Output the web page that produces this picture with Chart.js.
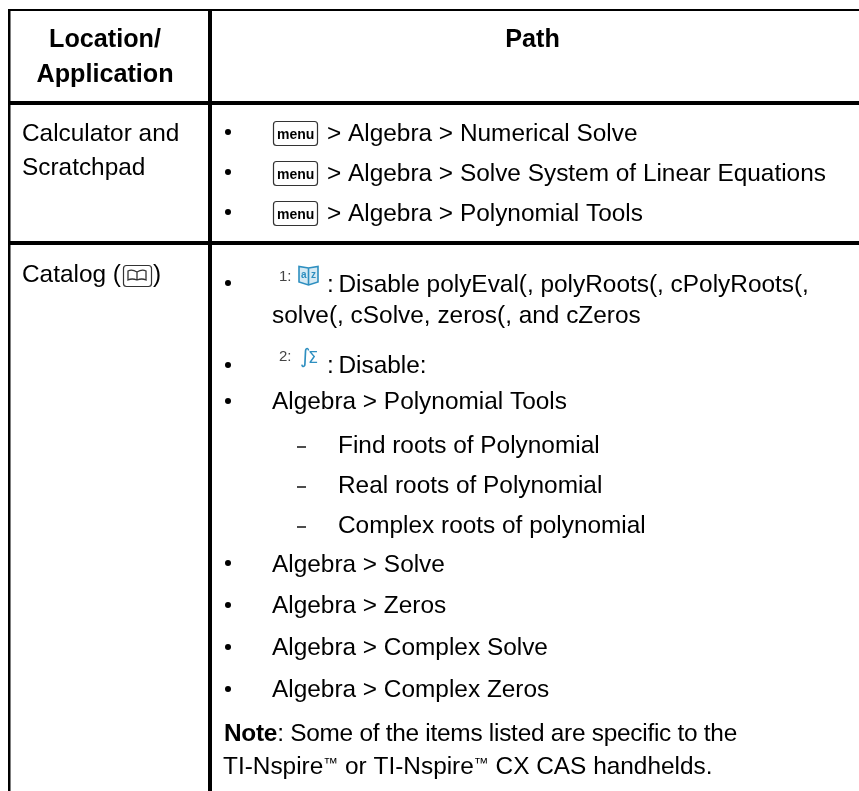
<!DOCTYPE html>
<html>
<head>
<meta charset="utf-8">
<title>Location / Path</title>
<script src="https://cdn.jsdelivr.net/npm/chart.js@4/dist/chart.umd.min.js"></script>
<style>
  html, body { margin: 0; padding: 0; background: #fff; }
  canvas { display: block; }
</style>
</head>
<body>
<canvas id="pathTable" width="859" height="791"></canvas>
<script>
// table rules
const columnEdges = [9.5, 210];
const columnWeights = [2.5, 4];
const rowEdges = [10, 103, 243];
const rowWeights = [2, 4, 4];

// header and first column
const headerLabels = ["Location/", "Application", "Path"];
const headerX = [105, 105, 532.5];
const headerY = [47, 82, 47];
const locationLabels = ["Calculator and", "Scratchpad", "Catalog ("];
const locationY = [141, 175, 282];

// second column, one entry per printed line
const pathLabels = [
  "> Algebra > Numerical Solve",
  "> Algebra > Solve System of Linear Equations",
  "> Algebra > Polynomial Tools",
  ":",
  "Disable polyEval(, polyRoots(, cPolyRoots(,",
  "solve(, cSolve, zeros(, and cZeros",
  ":",
  "Disable:",
  "Algebra > Polynomial Tools",
  "Find roots of Polynomial",
  "Real roots of Polynomial",
  "Complex roots of polynomial",
  "Algebra > Solve",
  "Algebra > Zeros",
  "Algebra > Complex Solve",
  "Algebra > Complex Zeros"
];
const pathX = [327, 327, 327, 327, 338.5, 272, 327, 338.5, 272, 338, 338, 338, 272, 272, 272, 272];
const pathY = [141, 181, 221, 292, 292, 323, 373, 373, 409, 453, 493, 533, 572, 613, 655, 697];
const noteLabels = ["Note", ": Some of the items listed are specific to the"];
const handheldLabels = ["TI-Nspire", "™", " or TI-Nspire", "™", " CX CAS handhelds."];

// marks in the second column
const bulletRows = [132, 172, 212, 283, 365, 401, 563, 605, 647, 689];
const dashRows = [447, 487, 527];
const menuRows = [141, 181, 221];

const tableText = {
  id: "tableText",
  afterDatasetsDraw(chart) {
    const { ctx, scales: { x, y } } = chart;
    const bodyFont = "24.4px 'Liberation Sans'";
    const boldFont = "bold 24.4px 'Liberation Sans'";
    ctx.save();
    ctx.fillStyle = "#000";
    ctx.textBaseline = "alphabetic";

    ctx.textAlign = "center";
    ctx.font = "bold 25.2px 'Liberation Sans'";
    headerLabels.forEach((t, i) => ctx.fillText(t, x.getPixelForValue(headerX[i]), y.getPixelForValue(headerY[i])));

    ctx.textAlign = "left";
    ctx.font = bodyFont;
    locationLabels.forEach((t, i) => ctx.fillText(t, x.getPixelForValue(22), y.getPixelForValue(locationY[i])));
    ctx.fillText(")", x.getPixelForValue(153), y.getPixelForValue(282));
    pathLabels.forEach((t, i) => ctx.fillText(t, x.getPixelForValue(pathX[i]), y.getPixelForValue(pathY[i])));

    // bold lead-in of the note, this line is set a little tighter
    const noteX = x.getPixelForValue(224), noteY = y.getPixelForValue(741);
    ctx.letterSpacing = "-0.26px";
    ctx.font = boldFont;
    ctx.fillText(noteLabels[0], noteX, noteY);
    const leadWidth = ctx.measureText(noteLabels[0]).width;
    ctx.font = bodyFont;
    ctx.fillText(noteLabels[1], noteX + leadWidth, noteY);
    ctx.letterSpacing = "0px";

    // trademark signs are small and raised
    let handX = x.getPixelForValue(223);
    const handY = y.getPixelForValue(774);
    handheldLabels.forEach(t => {
      const mark = t === "™";
      ctx.font = mark ? "15px 'Liberation Sans'" : bodyFont;
      ctx.fillText(t, handX, mark ? handY - 6.5 : handY);
      handX += ctx.measureText(t).width;
    });

    // menu key caps
    menuRows.forEach(row => {
      const px = x.getPixelForValue(273), py = y.getPixelForValue(row - 20);
      ctx.strokeStyle = "#333";
      ctx.lineWidth = 1.2;
      ctx.beginPath();
      ctx.roundRect(px + 0.5, py + 0.5, 44, 24, 3);
      ctx.stroke();
      ctx.font = "bold 14px 'Liberation Sans'";
      ctx.fillText("menu", px + 4, py + 18);
    });

    // catalog key in the first column
    const kx = x.getPixelForValue(123), ky = y.getPixelForValue(265);
    ctx.strokeStyle = "#333";
    ctx.lineWidth = 1.2;
    ctx.beginPath();
    ctx.roundRect(kx + 0.5, ky + 0.5, 28, 21, 3);
    ctx.stroke();
    ctx.lineWidth = 1.3;
    ctx.beginPath();
    ctx.moveTo(kx + 14, ky + 7);
    ctx.quadraticCurveTo(kx + 9, ky + 4, kx + 5, ky + 6);
    ctx.lineTo(kx + 5, ky + 15);
    ctx.quadraticCurveTo(kx + 9, ky + 13, kx + 14, ky + 15);
    ctx.quadraticCurveTo(kx + 19, ky + 13, kx + 23, ky + 15);
    ctx.lineTo(kx + 23, ky + 6);
    ctx.quadraticCurveTo(kx + 19, ky + 4, kx + 14, ky + 7);
    ctx.lineTo(kx + 14, ky + 15);
    ctx.stroke();

    // catalog tab icons
    ctx.fillStyle = "#444";
    ctx.font = "15px 'Liberation Sans'";
    ctx.fillText("1:", x.getPixelForValue(279), y.getPixelForValue(281));
    ctx.fillText("2:", x.getPixelForValue(279), y.getPixelForValue(361));

    ctx.fillStyle = "#2e8fc0";
    ctx.font = "20px 'DejaVu Sans'";
    ctx.fillText("∫", x.getPixelForValue(300), y.getPixelForValue(363));
    ctx.font = "16px 'DejaVu Sans'";
    ctx.fillText("Σ", x.getPixelForValue(308), y.getPixelForValue(363));

    const bx = x.getPixelForValue(297), by = y.getPixelForValue(265);
    ctx.strokeStyle = "#2e8fc0";
    ctx.lineWidth = 1.6;
    ctx.beginPath();
    ctx.moveTo(bx + 11.5, by + 3);
    ctx.lineTo(bx + 2, by + 1.5);
    ctx.lineTo(bx + 2, by + 17);
    ctx.lineTo(bx + 11.5, by + 20);
    ctx.lineTo(bx + 21, by + 17);
    ctx.lineTo(bx + 21, by + 1.5);
    ctx.closePath();
    ctx.fillStyle = "#d6eaf4";
    ctx.fill();
    ctx.moveTo(bx + 11.5, by + 3);
    ctx.lineTo(bx + 11.5, by + 20);
    ctx.stroke();
    ctx.fillStyle = "#2e8fc0";
    ctx.font = "bold 10px 'Liberation Sans'";
    ctx.fillText("a", bx + 4, by + 13);
    ctx.fillText("z", bx + 14, by + 13);

    ctx.restore();
  }
};

const ruleScale = (edges, weights) => ({
  type: "linear",
  afterBuildTicks: scale => { scale.ticks = edges.map(value => ({ value })); },
  ticks: { display: false },
  border: { display: false },
  grid: {
    color: "#000",
    drawTicks: false,
    lineWidth: c => weights[edges.indexOf(c.tick && c.tick.value)] || 0
  }
});

new Chart(document.getElementById("pathTable"), {
  type: "scatter",
  data: {
    datasets: [
      {
        label: "bullets",
        data: bulletRows.map(row => ({ x: 228, y: row })),
        pointStyle: "circle",
        pointRadius: 3,
        backgroundColor: "#000",
        borderWidth: 0
      },
      {
        label: "dashes",
        data: dashRows.map(row => ({ x: 301.5, y: row })),
        pointStyle: "line",
        pointRadius: 4.5,
        borderColor: "#000",
        borderWidth: 1.4
      }
    ]
  },
  options: {
    responsive: false,
    animation: false,
    layout: { autoPadding: false, padding: { left: 8, top: 9, right: 0, bottom: 0 } },
    plugins: { legend: { display: false }, tooltip: { enabled: false } },
    scales: {
      x: { ...ruleScale(columnEdges, columnWeights), min: 8, max: 859 },
      y: { ...ruleScale(rowEdges, rowWeights), min: 9, max: 791, reverse: true }
    }
  },
  plugins: [tableText]
});
</script>
</body>
</html>
